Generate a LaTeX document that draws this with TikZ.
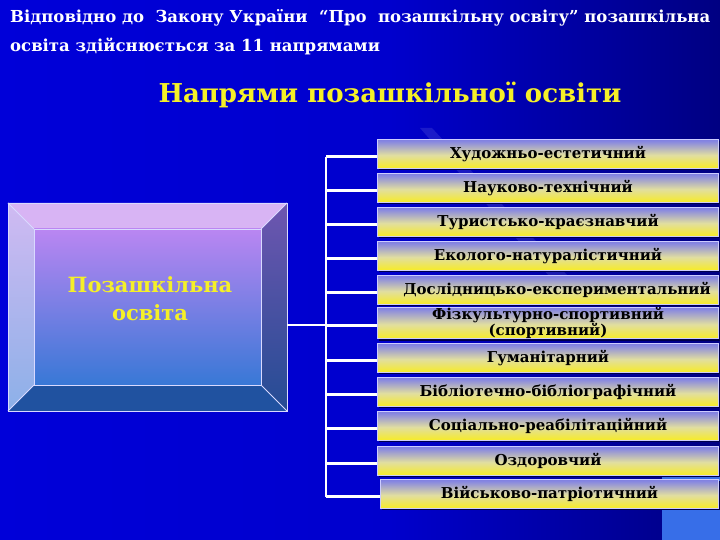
\documentclass[tikz,border=0pt]{standalone}
\usepackage{fontspec}
\setmainfont{DejaVu Serif}
\usetikzlibrary{shadows}
\definecolor{bgA}{RGB}{0,0,228}
\definecolor{bgB}{RGB}{0,0,205}
\definecolor{bgC}{RGB}{0,0,120}
\definecolor{bgD}{RGB}{0,0,12}
\definecolor{boxY}{RGB}{250,238,20}
\definecolor{boxW}{RGB}{225,222,160}
\definecolor{boxL}{RGB}{135,135,225}
\definecolor{boxB}{RGB}{70,70,212}
\definecolor{headY}{RGB}{245,240,40}
\definecolor{lightsq}{RGB}{55,110,232}
\pgfdeclarehorizontalshading{bgsh}{100bp}{color(0bp)=(bgA); color(52bp)=(bgB); color(78bp)=(bgC); color(100bp)=(bgD)}
\pgfdeclareverticalshading{boxsh}{100bp}{color(0bp)=(boxY); color(22bp)=(boxY); color(48bp)=(boxW); color(72bp)=(boxL); color(100bp)=(boxB)}
\tikzset{
  conn/.style={draw=white, line width=2.6pt},
  edge/.style={draw=white!85!blue, line width=0.8pt},
  dirbox/.style={shading=boxsh, draw=white!80!blue, line width=1pt,
    minimum width=341pt, minimum height=29pt, anchor=west, inner sep=0pt,
    font=\fontsize{15}{11.5}\selectfont\bfseries, text=black,
    drop shadow={shadow xshift=1.6pt, shadow yshift=-1.6pt, fill=black!70!blue, opacity=1}},
  titletext/.style={text=white, font=\fontsize{16.5}{19}\selectfont\bfseries, anchor=west, inner sep=0pt},
}
\begin{document}
\begin{tikzpicture}[x=1pt,y=-1pt]
\useasboundingbox (0,0) rectangle (720,540);
% background
\shade[shading=bgsh] (0,0) rectangle (720,540);
\fill[white, opacity=0.10] (420,128) -- (432,128) -- (590,300) -- (570,300) -- cycle;
\fill[lightsq] (662,476) rectangle (720,540);
% title
\node[titletext] (t1) at (10,18) {Відповідно до \ Закону України \ “Про \ позашкільну освіту” позашкільна};
\node[titletext] (t2) at (10,46) {освіта здійснюється за 11 напрямами};
\node[text=headY, font=\fontsize{26}{30}\selectfont\bfseries, inner sep=0pt] (head) at (390,95) {Напрями позашкільної освіти};
% left bevel box
\fill[fill={rgb,255:red,216;green,180;blue,244}] (8,203) -- (287,203) -- (261,229) -- (34,229) -- cycle;
\shade[top color={rgb,255:red,208;green,186;blue,242}, bottom color={rgb,255:red,140;green,176;blue,232}] (8,203) -- (34,229) -- (34,385) -- (8,411) -- cycle;
\shade[top color={rgb,255:red,110;green,86;blue,176}, bottom color={rgb,255:red,36;green,76;blue,148}] (287,203) -- (287,411) -- (261,385) -- (261,229) -- cycle;
\fill[fill={rgb,255:red,32;green,82;blue,160}] (8,411) -- (287,411) -- (261,385) -- (34,385) -- cycle;
\shade[top color={rgb,255:red,186;green,134;blue,242}, middle color={rgb,255:red,142;green,116;blue,226}, bottom color={rgb,255:red,56;green,120;blue,214}] (34,229) rectangle (261,385);
\draw[edge] (8,203) rectangle (287,411);
\draw[edge] (34,229) rectangle (261,385);
\draw[edge] (8,203) -- (34,229) (287,203) -- (261,229) (287,411) -- (261,385) (8,411) -- (34,385);
\node[text=headY, font=\fontsize{21}{28}\selectfont\bfseries, align=center] (src) at (150,299) {Позашкільна\\освіта};
% direction boxes
\node[dirbox] (b1) at (377,154) {Художньо-естетичний};
\node[dirbox] (b2) at (377,188) {Науково-технічний};
\node[dirbox] (b3) at (377,222) {Туристсько-краєзнавчий};
\node[dirbox] (b4) at (377,256) {Еколого-натуралістичний};
\node[dirbox] (b5) at (377,290) {\hspace*{18pt}Дослідницько-експериментальний};
\node[dirbox, align=center] (b6) at (377,323) {Фізкультурно-спортивний\\(спортивний)};
\node[dirbox] (b7) at (377,358) {Гуманітарний};
\node[dirbox] (b8) at (377,392) {Бібліотечно-бібліографічний};
\node[dirbox] (b9) at (377,426) {Соціально-реабілітаційний};
\node[dirbox] (b10) at (377,461) {Оздоровчий};
\node[dirbox, minimum width=338pt] (b11) at (380,494) {Військово-патріотичний};
% connectors
\coordinate (srcE) at (287,325);
\coordinate (j) at (326,325);
\coordinate (sTop) at (326,157);
\coordinate (sBot) at (326,497);
\draw[conn] (srcE) -- (j);
\draw[conn] (sTop) -- (sBot);
\foreach \b in {b1,b2,b3,b4,b5,b6,b7,b8,b9,b10,b11}
  \draw[conn] ([yshift=-2.5pt]sTop |- \b.west) -- ([yshift=-2.5pt]\b.west);
\end{tikzpicture}
\end{document}
